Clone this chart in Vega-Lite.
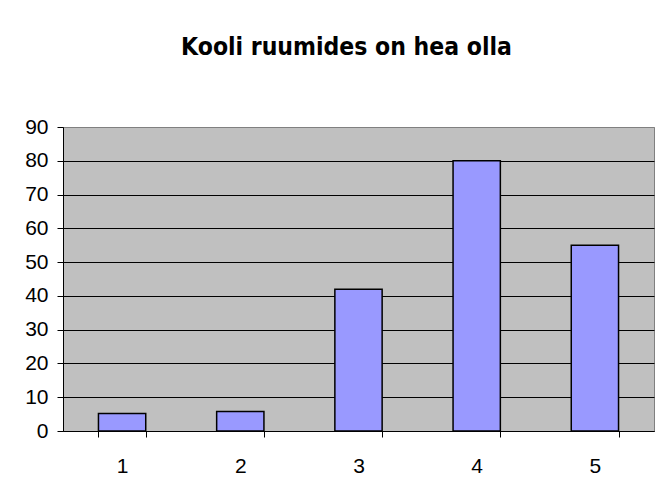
{
  "$schema": "https://vega.github.io/schema/vega-lite/v6.json",
  "autosize": "none",
  "width": 591,
  "height": 304,
  "padding": {"left": 63, "top": 127, "right": 10, "bottom": 73},
  "background": "white",
  "title": {
    "text": "Kooli ruumides on hea olla",
    "font": "DejaVu Sans Condensed",
    "fontSize": 24.5,
    "fontWeight": "bold",
    "color": "black",
    "anchor": "middle",
    "baseline": "alphabetic",
    "offset": 37,
    "dx": -12
  },
  "data": {
    "values": [
      {"hinne": "1", "vastuseid": 5.2},
      {"hinne": "2", "vastuseid": 5.8},
      {"hinne": "3", "vastuseid": 42},
      {"hinne": "4", "vastuseid": 80},
      {"hinne": "5", "vastuseid": 55}
    ]
  },
  "mark": {"type": "bar", "color": "#9999FF", "stroke": "black", "strokeWidth": 1.5},
  "encoding": {
    "x": {
      "field": "hinne",
      "type": "ordinal",
      "scale": {"paddingInner": 0.6, "paddingOuter": 0.3},
      "axis": {
        "title": null,
        "labelAngle": 0,
        "labelFont": "Liberation Sans",
        "labelFontSize": 21,
        "labelColor": "black",
        "labelPadding": 18,
        "domainColor": "black",
        "domainWidth": 1,
        "tickColor": "black",
        "tickSize": 6,
        "tickBand": "extent",
        "grid": false
      }
    },
    "y": {
      "field": "vastuseid",
      "type": "quantitative",
      "scale": {"domain": [0, 90], "nice": false},
      "axis": {
        "title": null,
        "values": [0, 10, 20, 30, 40, 50, 60, 70, 80, 90],
        "labelFont": "Liberation Sans",
        "labelFontSize": 21,
        "labelColor": "black",
        "labelPadding": 9,
        "domainColor": "black",
        "tickColor": "black",
        "tickSize": 6,
        "grid": true,
        "gridColor": {"condition": {"test": "datum.value === 90", "value": "#808080"}, "value": "black"},
        "gridOpacity": 1,
        "gridWidth": 1
      }
    }
  },
  "config": {
    "view": {"fill": "#C0C0C0", "stroke": "#808080", "strokeWidth": 1}
  }
}
